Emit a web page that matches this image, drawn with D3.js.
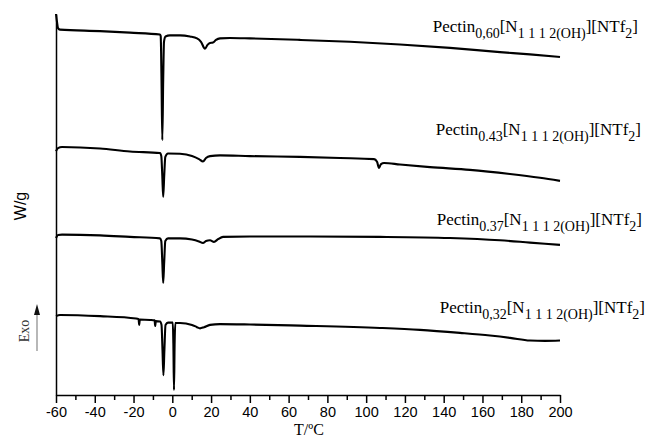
<!DOCTYPE html>
<html><head><meta charset="utf-8">
<script src="https://cdn.jsdelivr.net/npm/d3@7"></script>
<style>body{margin:0;background:#fff}svg{display:block}</style>
</head><body>
<script>
// ---- data ----
const xTicks = [-60,-40,-20,0,20,40,60,80,100,120,140,160,180,200];
const sampleLabels = ["0,60","0.43","0.37","0,32"];

const t060 = [-60,-59.48,-58.97,-57.94,-37.30,-21.83,-6.35,-5.99,-5.57,-5.16,-4.70,-4.29,-3.51,-1.19,3.97,9.13,12.74,14.80,16.87,18.16,19.45,21.00,22.54,24.61,29.76,40.08,65.87,91.67,117.46,143.25,169.05,184.52,200];
const v060 = [10.00,9.79,9.63,9.59,9.55,9.51,9.46,9.42,8.27,6.69,8.27,9.27,9.41,9.44,9.44,9.41,9.36,9.27,9.09,9.19,9.24,9.25,9.32,9.36,9.37,9.36,9.32,9.27,9.20,9.11,9.00,8.94,8.87];

const t043 = [-60,-58.97,-56.90,-37.30,-21.83,-6.35,-5.68,-5.16,-4.70,-4.18,-3.61,-2.22,3.97,10.16,13.77,15.83,17.38,19.45,24.61,40.08,65.87,86.51,104.05,105.60,106.63,107.66,109.21,117.46,132.94,153.57,174.21,189.68,200];
const v043 = [6.40,6.48,6.51,6.47,6.39,6.35,6.27,5.75,5.20,5.75,6.25,6.34,6.33,6.27,6.19,6.13,6.22,6.27,6.29,6.27,6.25,6.22,6.19,6.12,5.96,6.06,6.09,6.05,5.98,5.91,5.80,5.70,5.62];

const t037 = [-60,-58.97,-56.90,-37.30,-21.83,-6.35,-5.68,-5.16,-4.70,-4.18,-3.61,-2.22,3.97,10.16,13.77,15.83,17.38,19.45,21.51,23.58,26.16,40.08,65.87,107.14,143.25,169.05,184.52,200];
const v037 = [4.12,4.20,4.21,4.19,4.15,4.11,4.04,3.49,2.94,3.49,4.04,4.11,4.11,4.08,4.03,3.99,4.04,4.06,4.02,4.09,4.15,4.16,4.16,4.15,4.12,4.06,4.00,3.94];

const t032 = [-60,-57.94,-37.30,-18.73,-17.39,-17.08,-16.77,-11.51,-9.14,-8.83,-8.52,-6.35,-5.57,-5.06,-4.59,-4.08,-3.51,-2.22,0.26,0.56,0.87,1.18,1.54,3.97,10.16,12.74,14.29,16.35,19.45,24.61,40.08,65.87,107.14,127.78,148.41,163.89,174.21,184.52,192.26,200];
const v032 = [2.07,2.10,2.07,2.01,1.99,1.84,1.98,1.97,1.96,1.81,1.94,1.93,1.84,1.18,0.52,1.18,1.84,1.90,1.90,1.31,0.13,1.31,1.89,1.89,1.84,1.78,1.75,1.78,1.84,1.86,1.85,1.82,1.76,1.71,1.63,1.56,1.50,1.43,1.42,1.43];

const series = [
  {t:t060, v:v060},
  {t:t043, v:v043},
  {t:t037, v:v037},
  {t:t032, v:v032}
];

// ---- layout ----
const W = 648, H = 439;
const svg = d3.select("body").append("svg").attr("width",W).attr("height",H);
const x = d3.scaleLinear().domain([-60,200]).range([56,560]);
const y = d3.scaleLinear().domain([0,10]).range([395,14]);

// x axis
const minor = d3.range(-50,200,20);
svg.append("g").attr("transform","translate(0,395)")
  .call(d3.axisBottom(x).tickValues(minor).tickSize(5).tickFormat("").tickSizeOuter(0))
  .call(g=>g.select(".domain").remove())
  .call(g=>g.selectAll("line").attr("stroke","#000").attr("stroke-width",1.5));
svg.append("g").attr("transform","translate(0,395)")
  .call(d3.axisBottom(x).tickValues(xTicks).tickSize(8).tickPadding(4).tickSizeOuter(0).tickFormat(d=>d))
  .call(g=>g.select(".domain").attr("stroke","#000").attr("stroke-width",1.5))
  .call(g=>g.selectAll("line").attr("stroke","#000").attr("stroke-width",1.5))
  .call(g=>g.selectAll("text").attr("fill","#000").attr("font-family","'Liberation Sans', Arial, sans-serif").attr("font-size","14.5px"));

// y axis (line only)
svg.append("g").attr("transform","translate(56,0)")
  .call(d3.axisLeft(y).tickValues([]).tickSizeOuter(0))
  .call(g=>g.select(".domain").attr("stroke","#000").attr("stroke-width",1.5));

// curves
const line = d3.line().x(d=>x(d[0])).y(d=>y(d[1])).curve(d3.curveMonotoneX);
series.forEach(s=>{
  const pts = s.t.map((t,i)=>[t,s.v[i]]);
  svg.append("path").datum(pts).attr("d",line)
    .attr("fill","none").attr("stroke","#000").attr("stroke-width",2.1)
    .attr("stroke-linejoin","round");
});

// labels
const labelPos = [[638,32],[641,135],[642,225],[645,313]];
sampleLabels.forEach((lab,i)=>{
  const t = svg.append("text").attr("x",labelPos[i][0]).attr("y",labelPos[i][1])
    .attr("text-anchor","end").attr("font-family","'Liberation Serif','Times New Roman',serif")
    .attr("font-size","17px").attr("fill","#000");
  const parts = [["Pectin",0,17],[lab,6,14],["[N",-6,17],["1 1 1 2(OH)",6,14],["][NTf",-6,17],["2",6,14],["]",-6,17]];
  parts.forEach(p=>t.append("tspan").attr("dy",p[1]).attr("font-size",p[2]+"px").text(p[0]));
});

// axis titles
svg.append("text").attr("transform","translate(26,206) rotate(-90)").attr("text-anchor","middle")
  .attr("font-family","'Liberation Sans', Arial, sans-serif").attr("font-size","16px").text("W/g");
svg.append("text").attr("transform","translate(29,331) rotate(-90)").attr("text-anchor","middle")
  .attr("font-family","'Liberation Serif','Times New Roman',serif").attr("font-size","14px").attr("fill","#333").text("Exo");
svg.append("line").attr("x1",37).attr("x2",37).attr("y1",351).attr("y2",312).attr("stroke","#888").attr("stroke-width",1.2);
svg.append("path").attr("d","M37,304 L34,315 L40,315 Z").attr("fill","#111");
svg.append("text").attr("x",309).attr("y",435).attr("text-anchor","middle")
  .attr("font-family","'Liberation Serif','Times New Roman',serif").attr("font-size","16px").text("T/ºC");
</script>
</body></html>
